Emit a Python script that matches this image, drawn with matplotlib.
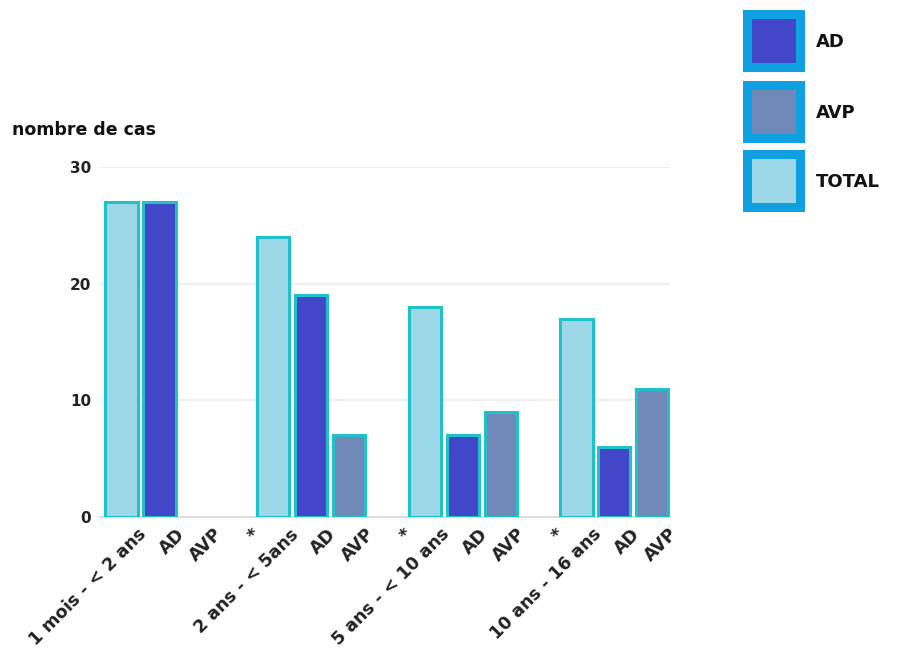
import matplotlib.pyplot as plt
from matplotlib.patches import Rectangle
from matplotlib.transforms import ScaledTranslation

# data
labels = ["1 mois - < 2 ans", "AD", "AVP", "*",
          "2 ans - < 5ans", "AD", "AVP", "*",
          "5 ans - < 10 ans", "AD", "AVP", "*",
          "10 ans - 16 ans", "AD", "AVP"]
values = [27, 27, 0, 0, 24, 19, 7, 0, 18, 7, 9, 0, 17, 6, 11]
kinds = ["TOTAL", "AD", "AVP", "", "TOTAL", "AD", "AVP", "",
         "TOTAL", "AD", "AVP", "", "TOTAL", "AD", "AVP"]
legend_names = ["AD", "AVP", "TOTAL"]

colors = {"TOTAL": "#9dd8e8", "AD": "#4246c8", "AVP": "#7189b9", "": "white"}
edge = "#1ec2c8"

fig = plt.figure(figsize=(9.05, 6.56), dpi=100)
ax = fig.add_axes([0.11, 0.212, 0.63, 0.533])

x = list(range(len(labels)))
for xi, v, k in zip(x, values, kinds):
    if v > 0:
        ax.bar(xi, v, width=0.85, color=colors[k], edgecolor=edge, linewidth=2.2, zorder=3)

ax.set_xlim(-0.58, 14.46)
ax.set_ylim(0, 30)
ax.set_yticks([0, 10, 20, 30])
ax.yaxis.grid(True, color="#eeeeee", linewidth=1.5, zorder=0)
for s in ["top", "right", "left"]:
    ax.spines[s].set_visible(False)
ax.spines["bottom"].set_color("#dddddd")
ax.spines["bottom"].set_linewidth(1.5)
ax.tick_params(length=0, pad=6)
ax.set_xticks(x)
ax.set_xticklabels(labels, rotation=45, ha="right", rotation_mode="anchor",
                   fontsize=12.5, fontweight="bold", color="#222222")
shift = ScaledTranslation(16 / 100, 0, fig.dpi_scale_trans)
for t in ax.get_xticklabels():
    t.set_transform(t.get_transform() + shift)
for t in ax.get_yticklabels():
    t.set_fontsize(11)
    t.set_fontweight("bold")
    t.set_color("#222222")

fig.text(12 / 905, 1 - 130 / 656, "nombre de cas", fontsize=12.5, fontweight="bold",
         va="center", ha="left", color="#111111")

# legend drawn as squares
W, H = 905, 656
legend_tops = [10, 81, 150]
for name, top in zip(legend_names, legend_tops):
    fig.patches.append(Rectangle((743 / W, 1 - (top + 62) / H), 62 / W, 62 / H,
                                 transform=fig.transFigure, facecolor="#0fa0e2",
                                 edgecolor="none"))
    fig.patches.append(Rectangle((752 / W, 1 - (top + 53) / H), 44 / W, 44 / H,
                                 transform=fig.transFigure, facecolor=colors[name],
                                 edgecolor="none"))
    fig.text(816 / W, 1 - (top + 32) / H, name, fontsize=13, fontweight="bold",
             va="center", ha="left", color="#111111")

fig.savefig("out.png", dpi=100)
